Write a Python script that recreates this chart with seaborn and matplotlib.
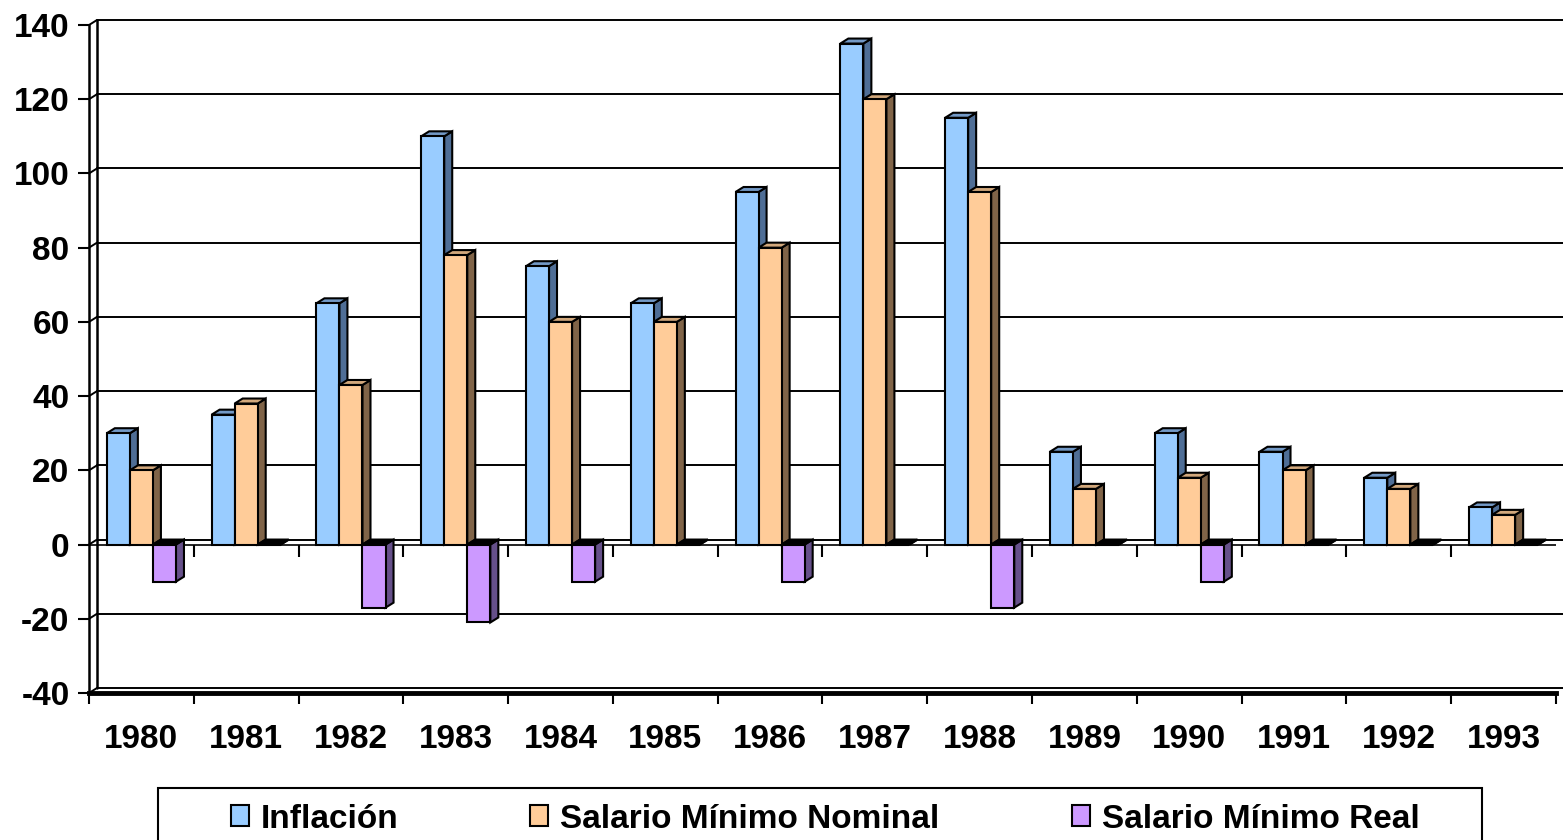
import numpy as np
import pandas as pd
import matplotlib
matplotlib.use("Agg")
import matplotlib.pyplot as plt
import seaborn as sns
from matplotlib.patches import Polygon, Rectangle, Patch

years = [str(y) for y in range(1980, 1994)]
inflacion = [30, 35, 65, 110, 75, 65, 95, 135, 115, 25, 30, 25, 18, 10]
nominal = [20, 38, 43, 78, 60, 60, 80, 120, 95, 15, 18, 20, 15, 8]
real = [-10, 0, -17, -21, -10, 0, -10, 0, -17, 0, -10, 0, 0, 0]
series = ["Inflación", "Salario Mínimo Nominal", "Salario Mínimo Real"]
y_ticks = list(range(-40, 141, 20))

front_colors = ["#99CCFF", "#FFCC99", "#CC99FF"]
side_colors = ["#4F6E96", "#806448", "#66508A"]
top_colors = ["#7399C6", "#D2A87C", "#9A78C4"]

df = pd.DataFrame({
    "Año": years * 3,
    "Valor": inflacion + nominal + real,
    "Serie": [s for s in series for _ in years],
})

sns.set_style("white")
plt.rcParams["font.family"] = ["Liberation Sans", "DejaVu Sans"]
plt.rcParams["font.weight"] = "bold"
plt.rcParams["text.color"] = "black"
plt.rcParams["xtick.color"] = "black"
plt.rcParams["ytick.color"] = "black"
plt.rcParams["axes.labelcolor"] = "black"

fig = plt.figure(figsize=(15.63, 8.4), dpi=100)
ax = fig.add_axes([89 / 1563, 147 / 840, (1556 - 89) / 1563, (693 - 25) / 840])

sns.barplot(
    data=df,
    x="Año",
    y="Valor",
    hue="Serie",
    palette=front_colors,
    saturation=1,
    width=0.66,
    edgecolor="black",
    linewidth=1.5,
    legend=False,
    ax=ax,
)

ax.set_xlim(-0.5, len(years) - 0.5)
ax.set_ylim(-40, 140)

# depth of the 3D look, 8 px right and 5 px up
inv = ax.transData.inverted()
p0 = ax.transData.transform((0, 0))
ddx, ddy = inv.transform(p0 + np.array([8, 5])) - inv.transform(p0)
tick_len = (inv.transform(p0) - inv.transform(p0 - np.array([0, 12])))[1]

bars = [p for p in ax.patches if isinstance(p, Rectangle)]
bars.sort(key=lambda p: p.get_x())
for k, p in enumerate(bars):
    s = k % 3
    x, w = p.get_x(), p.get_width()
    y0, h = p.get_y(), p.get_height()
    top, bot = max(y0, y0 + h), min(y0, y0 + h)
    z = 3 + k * 0.01
    side = Polygon(
        [(x + w, bot), (x + w + ddx, bot + ddy), (x + w + ddx, top + ddy), (x + w, top)],
        closed=True, fc=side_colors[s], ec="black", lw=1.5, zorder=z,
    )
    face_top = top_colors[s] if h > 0 else "black"
    cap = Polygon(
        [(x, top), (x + ddx, top + ddy), (x + w + ddx, top + ddy), (x + w, top)],
        closed=True, fc=face_top, ec="black", lw=1.5, zorder=z,
    )
    ax.add_patch(side)
    ax.add_patch(cap)
    p.set_zorder(z + 0.005)

# back wall with gridlines
x_left, x_right = ax.get_xlim()
for v in y_ticks:
    ax.plot([x_left + ddx, x_right + ddx], [v + ddy, v + ddy],
            color="black", lw=1.4, zorder=1, clip_on=False)
    ax.plot([x_left, x_left + ddx], [v, v + ddy],
            color="black", lw=1.4, zorder=1, clip_on=False)
ax.plot([x_left + ddx, x_left + ddx], [-40 + ddy, 140 + ddy],
        color="black", lw=1.8, zorder=1, clip_on=False)

# category axis at zero
ax.axhline(0, color="black", lw=1.2, zorder=2)
bounds = np.arange(x_left, x_right + 0.01, 1)
ax.vlines(bounds[1:-1], -tick_len, 0, color="black", lw=1.5, zorder=2)

for side_name in ["top", "right"]:
    ax.spines[side_name].set_visible(False)
ax.spines["left"].set_linewidth(1.8)
ax.spines["left"].set_color("black")
ax.spines["bottom"].set_linewidth(3.5)
ax.spines["bottom"].set_color("black")

ax.set_yticks(y_ticks)
ax.set_yticklabels([str(v) for v in y_ticks])
ax.tick_params(axis="y", direction="out", length=8, width=1.5, pad=6,
               labelsize=24, left=True, color="black", labelcolor="black")
ax.set_xticks(range(len(years)))
ax.set_xticks(bounds, minor=True)
ax.tick_params(axis="x", which="major", length=0, pad=22, labelsize=24,
               labelcolor="black")
ax.tick_params(axis="x", which="minor", direction="out", length=8, width=1.5,
               bottom=True, color="black")
ax.set_xlabel("")
ax.set_ylabel("")
ax.grid(False)

handles = [Patch(facecolor=c, edgecolor="black", linewidth=1.5) for c in front_colors]
fig.legend(
    handles, series,
    ncol=3,
    loc="center",
    bbox_to_anchor=(825 / 1563, 21 / 840),
    frameon=False,
    fontsize=24,
    handlelength=0.54,
    handleheight=0.6,
    handletextpad=0.36,
    columnspacing=3.96,
    labelcolor="black",
)
fig.patches.append(Rectangle(
    (158 / 1563, -0.1), (1482 - 158) / 1563, 0.1 + 52 / 840,
    transform=fig.transFigure, fill=False, ec="black", lw=1.5,
))

fig.savefig("out.png", dpi=100)
